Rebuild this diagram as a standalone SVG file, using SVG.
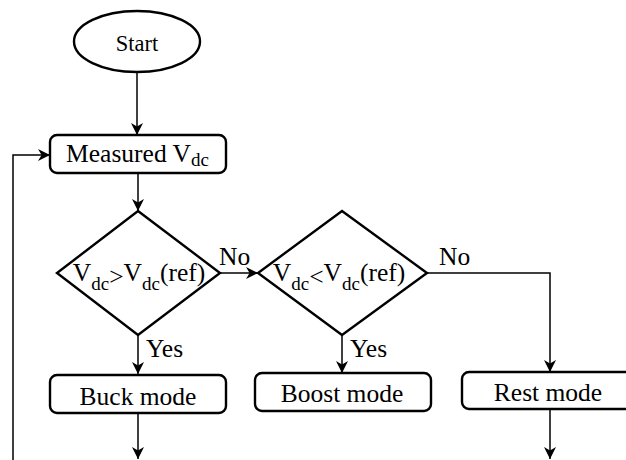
<svg xmlns="http://www.w3.org/2000/svg" width="626" height="460" viewBox="0 0 626 460">
<style>
.shape{fill:#fff;stroke:#000;stroke-width:2.4}
.conn{fill:none;stroke:#000;stroke-width:1.5}
text{font-family:"Liberation Serif","Times New Roman",serif;font-size:25.5px;fill:#000}
.sub{font-size:19px}
</style>
<defs>
<marker id="arr" markerWidth="12" markerHeight="12" refX="10" refY="5" orient="auto" markerUnits="userSpaceOnUse" viewBox="0 0 10 10">
<path d="M0,0 L10,5 L0,10 L3,5 Z" fill="#000"/>
</marker>
</defs>
<rect width="626" height="460" fill="#fff"/>
<g id="connectors">
<path class="conn" d="M137,72 V135" marker-end="url(#arr)"/>
<path class="conn" d="M13,460 V155 H50" marker-end="url(#arr)"/>
<path class="conn" d="M138,173 V211" marker-end="url(#arr)"/>
<path class="conn" d="M220,273 H258" marker-end="url(#arr)"/>
<path class="conn" d="M138,335 V374" marker-end="url(#arr)"/>
<path class="conn" d="M342,335 V373" marker-end="url(#arr)"/>
<path class="conn" d="M427,273 H550 V372" marker-end="url(#arr)"/>
<path class="conn" d="M138,413 V459" marker-end="url(#arr)"/>
<path class="conn" d="M550,409 V459" marker-end="url(#arr)"/>
<text x="219" y="265">No</text>
<text x="439" y="265">No</text>
<text x="146" y="357">Yes</text>
<text x="350" y="357">Yes</text>
</g>
<g id="start">
<ellipse class="shape" cx="137" cy="41.5" rx="63" ry="30.5"/>
<text x="137" y="50.5" text-anchor="middle" style="font-size:22.5px">Start</text>
</g>
<g id="measured">
<rect class="shape" x="50" y="135" width="176" height="38" rx="7"/>
<text x="137.5" y="162.3" text-anchor="middle">Measured V<tspan class="sub" dy="4">dc</tspan></text>
</g>
<g id="decision1">
<path class="shape" d="M138,211 L220,273 L138,335 L57,273 Z"/>
<text x="139" y="281" text-anchor="middle">V<tspan class="sub" dy="9">dc</tspan><tspan dy="-5">&gt;</tspan><tspan dy="-4">V</tspan><tspan class="sub" dy="9">dc</tspan><tspan dy="-9">(ref)</tspan></text>
</g>
<g id="decision2">
<path class="shape" d="M342,211 L427,273 L342,335 L258,273 Z"/>
<text x="339" y="281" text-anchor="middle">V<tspan class="sub" dy="9">dc</tspan><tspan dy="-5">&lt;</tspan><tspan dy="-4">V</tspan><tspan class="sub" dy="9">dc</tspan><tspan dy="-9">(ref)</tspan></text>
</g>
<g id="buck">
<rect class="shape" x="50" y="375" width="176" height="38" rx="7"/>
<text x="138" y="404.5" text-anchor="middle">Buck mode</text>
</g>
<g id="boost">
<rect class="shape" x="255" y="373" width="176" height="38" rx="7"/>
<text x="342" y="401.5" text-anchor="middle">Boost mode</text>
</g>
<g id="rest">
<rect class="shape" x="462" y="372" width="176" height="37" rx="7"/>
<text x="548" y="400.5" text-anchor="middle">Rest mode</text>
</g>
</svg>
